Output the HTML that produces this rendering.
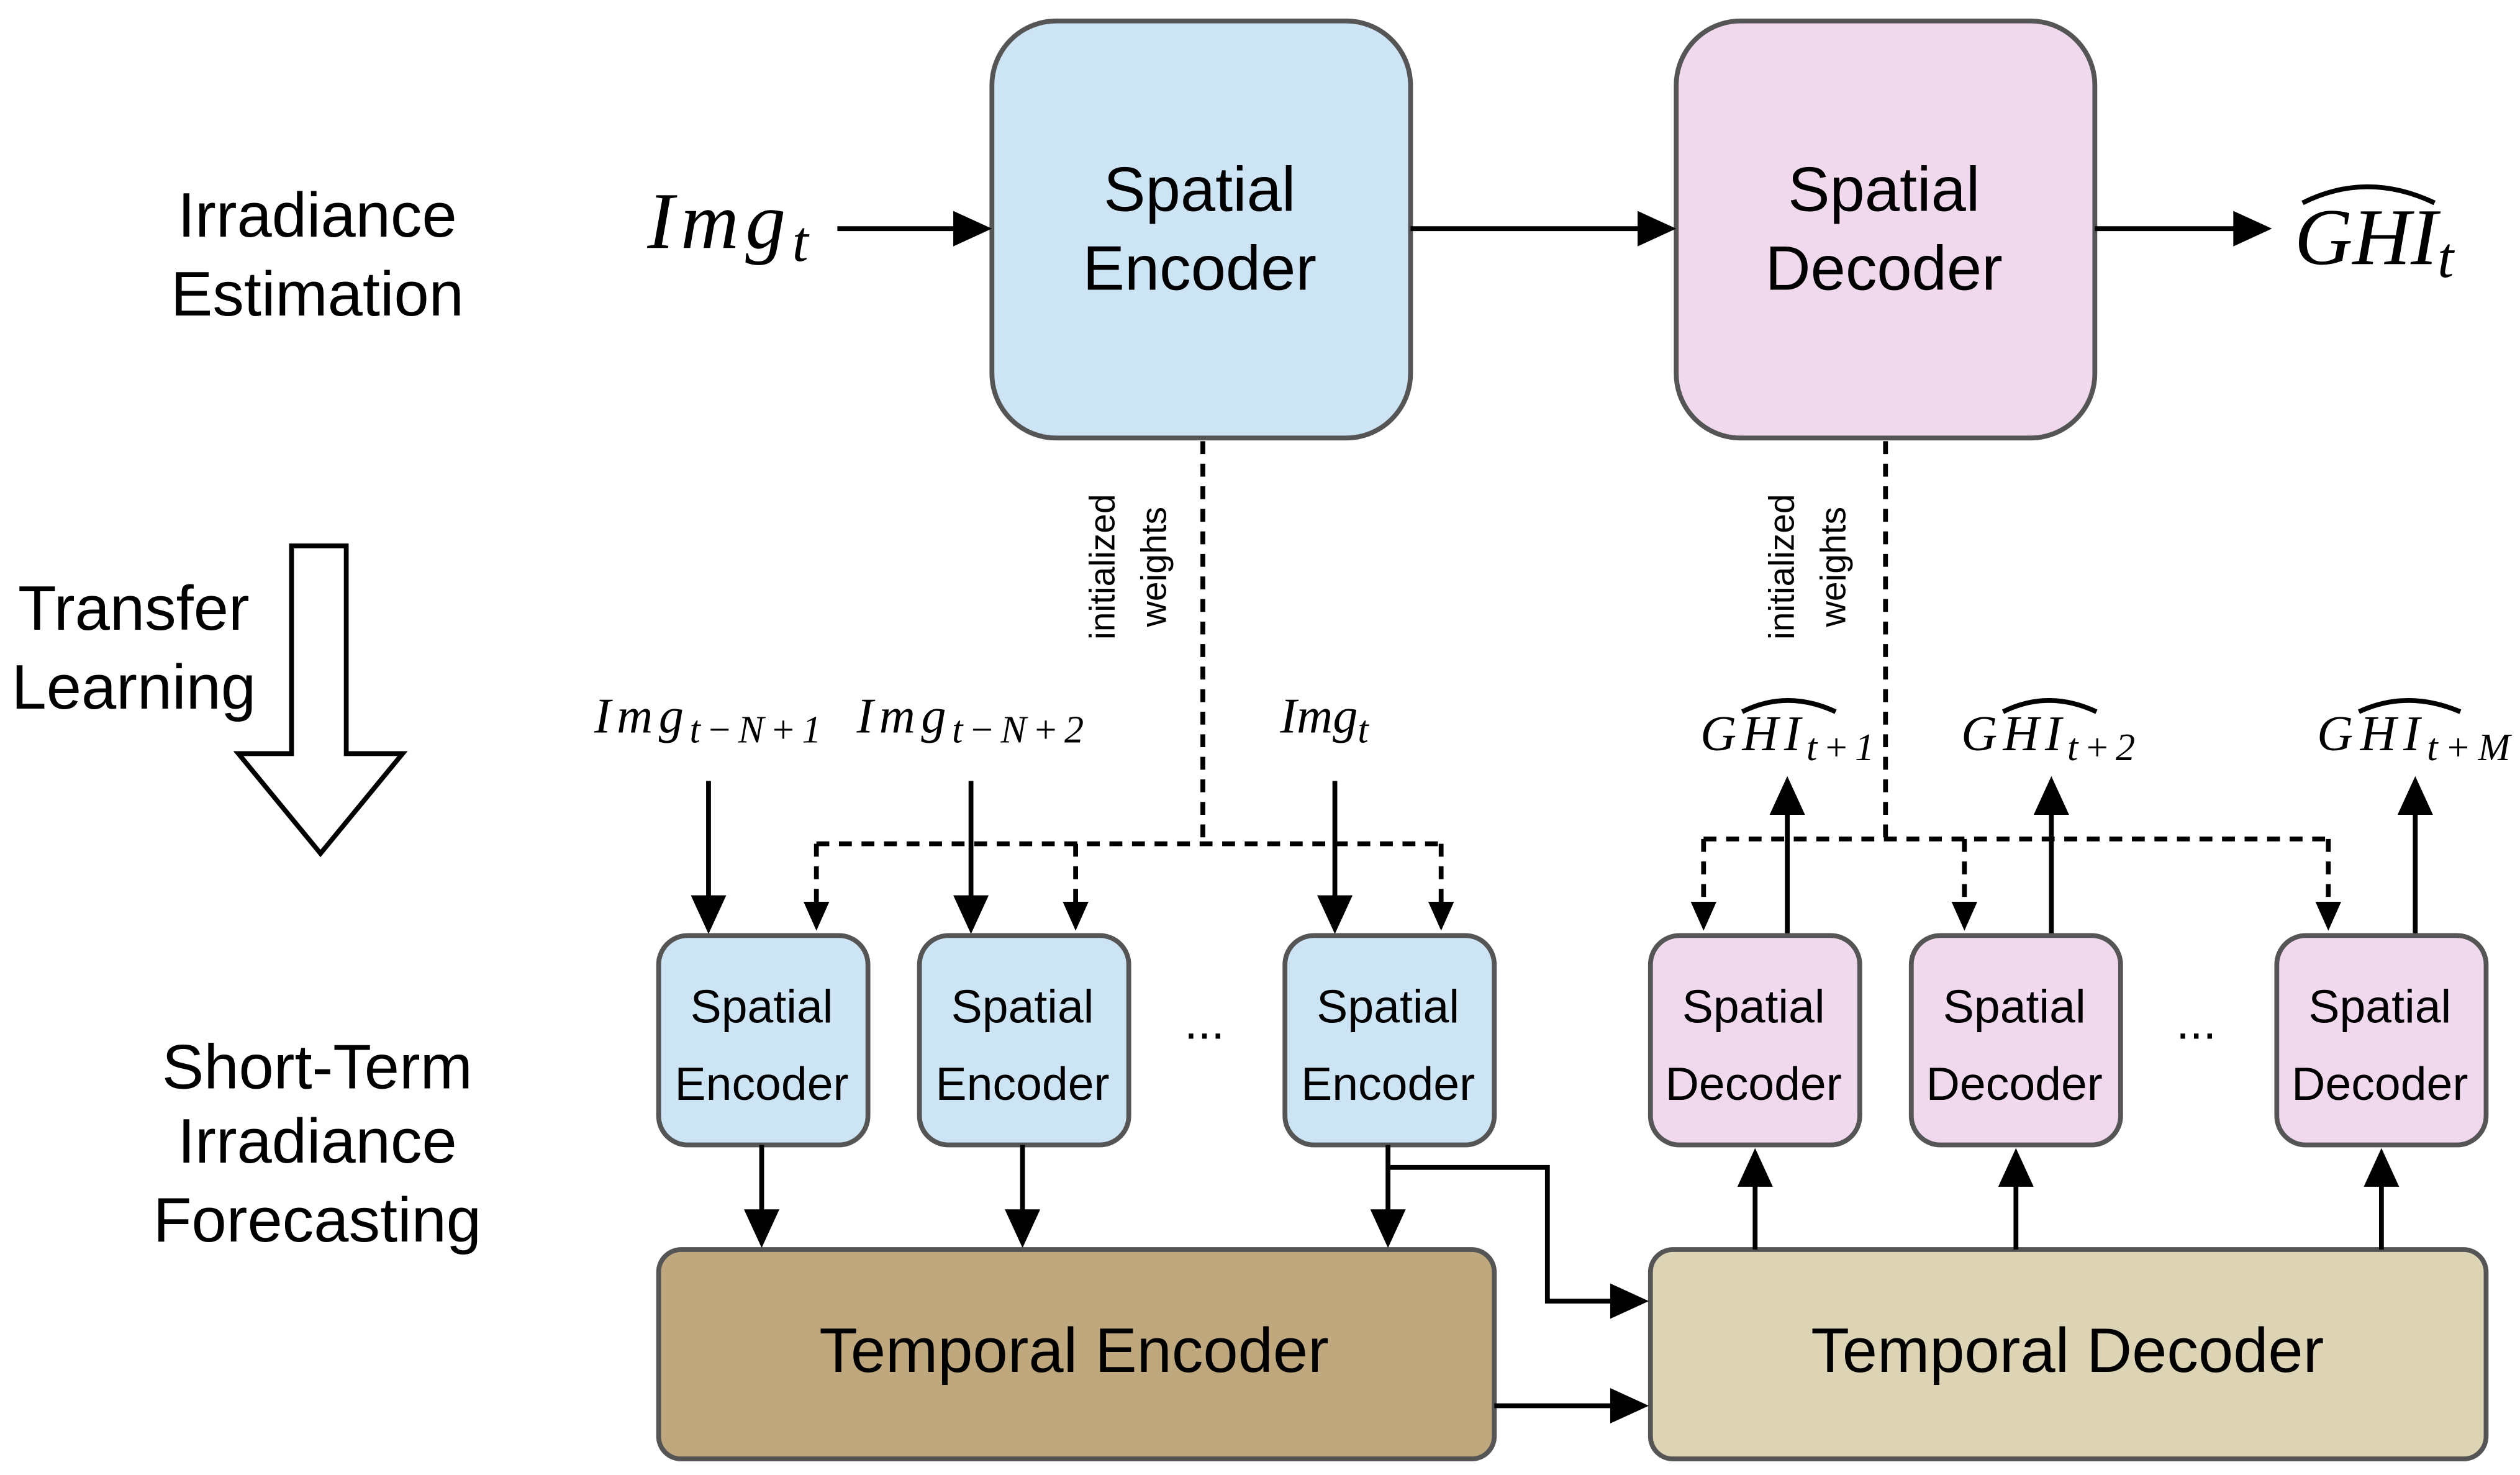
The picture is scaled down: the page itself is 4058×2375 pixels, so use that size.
<!DOCTYPE html>
<html><head><meta charset="utf-8"><style>html,body{margin:0;padding:0;background:#fff}svg{display:block}</style></head>
<body>
<svg width="4058" height="2375" viewBox="0 0 1565 916" xmlns="http://www.w3.org/2000/svg">
<style>
.t{font-family:"Liberation Sans",sans-serif;fill:#000;text-anchor:middle}
.m{font-family:"Liberation Serif",serif;font-style:italic;fill:#000}
.l{stroke:#000;stroke-width:3;fill:none}
.d{stroke:#000;stroke-width:3;fill:none;stroke-dasharray:8,6}
.h{fill:#000}
</style>
<!-- left labels -->
<text class="t" x="197" y="147" font-size="39">Irradiance</text>
<text class="t" x="197" y="196" font-size="39">Estimation</text>
<text class="t" x="83" y="391" font-size="39">Transfer</text>
<text class="t" x="83" y="440" font-size="39">Learning</text>
<text class="t" x="197" y="676" font-size="39">Short-Term</text>
<text class="t" x="197" y="722" font-size="39">Irradiance</text>
<text class="t" x="197" y="771" font-size="39">Forecasting</text>
<polygon points="181,339 215,339 215,468 250,468 199,530 148,468 181,468" fill="#fff" stroke="#000" stroke-width="3"/>

<!-- big boxes -->
<rect x="616" y="13" width="260" height="259" rx="40" fill="#cce4f4" stroke="#555" stroke-width="3"/>
<text class="t" x="745" y="131" font-size="39">Spatial</text>
<text class="t" x="745" y="180" font-size="39">Encoder</text>
<rect x="1041" y="13" width="260" height="259" rx="40" fill="#f0d9ed" stroke="#555" stroke-width="3"/>
<text class="t" x="1170" y="131" font-size="39">Spatial</text>
<text class="t" x="1170" y="180" font-size="39">Decoder</text>

<text class="m" x="402" y="154" font-size="50" textLength="100">Img<tspan font-size="36" dy="8">t</tspan></text>
<line class="l" x1="520" y1="142" x2="595" y2="142"/><polygon class="h" points="616,142 592,131 592,153"/>
<line class="l" x1="876" y1="142" x2="1020" y2="142"/><polygon class="h" points="1041,142 1017,131 1017,153"/>
<line class="l" x1="1301" y1="142" x2="1390" y2="142"/><polygon class="h" points="1411,142 1387,131 1387,153"/>
<text class="m" x="1425" y="164" font-size="50">GHI<tspan font-size="36" dy="8">t</tspan></text>
<path d="M1430,126 Q1470,106 1512,126" class="l" stroke-width="2.5"/>

<!-- dashed weights -->
<text class="t" font-size="22" transform="translate(692,352) rotate(-90)">initialized</text>
<text class="t" font-size="22" transform="translate(724,352) rotate(-90)">weights</text>
<text class="t" font-size="22" transform="translate(1114,352) rotate(-90)">initialized</text>
<text class="t" font-size="22" transform="translate(1146,352) rotate(-90)">weights</text>
<path class="d" d="M747,274 V524 M507,524 H895 M507,524 V562 M668,524 V562 M895,524 V562"/>
<polygon class="h" points="507,578 499,560 515,560"/><polygon class="h" points="668,578 660,560 676,560"/><polygon class="h" points="895,578 887,560 903,560"/>
<path class="d" d="M1171,274 V521 M1058,521 H1446 M1058,521 V562 M1220,521 V562 M1446,521 V562"/>
<polygon class="h" points="1058,578 1050,560 1066,560"/><polygon class="h" points="1220,578 1212,560 1228,560"/><polygon class="h" points="1446,578 1438,560 1454,560"/>

<!-- inputs -->
<text class="m" x="369" y="455" font-size="31" textLength="141">Img<tspan font-size="24" dy="6">t−N+1</tspan></text>
<text class="m" x="532" y="455" font-size="31" textLength="141">Img<tspan font-size="24" dy="6">t−N+2</tspan></text>
<text class="m" x="795" y="455" font-size="31">Img<tspan font-size="24" dy="6">t</tspan></text>
<line class="l" x1="440" y1="485" x2="440" y2="560"/><polygon class="h" points="440,580 429,556 451,556"/>
<line class="l" x1="603" y1="485" x2="603" y2="560"/><polygon class="h" points="603,580 592,556 614,556"/>
<line class="l" x1="829" y1="485" x2="829" y2="560"/><polygon class="h" points="829,580 818,556 840,556"/>

<!-- outputs -->
<text class="m" x="1056" y="466" font-size="31" textLength="108">GHI<tspan font-size="24" dy="6">t+1</tspan></text>
<text class="m" x="1218" y="466" font-size="31" textLength="108">GHI<tspan font-size="24" dy="6">t+2</tspan></text>
<text class="m" x="1439" y="466" font-size="31" textLength="120">GHI<tspan font-size="24" dy="6">t+M</tspan></text>
<path class="l" stroke-width="2" d="M1082,442 Q1110,428 1140,442 M1244,442 Q1272,428 1302,442 M1465,442 Q1495,428 1528,442"/>
<line class="l" x1="1110" y1="581" x2="1110" y2="505"/><polygon class="h" points="1110,482 1099,506 1121,506"/>
<line class="l" x1="1274" y1="581" x2="1274" y2="505"/><polygon class="h" points="1274,482 1263,506 1285,506"/>
<line class="l" x1="1500" y1="581" x2="1500" y2="505"/><polygon class="h" points="1500,482 1489,506 1511,506"/>

<!-- small boxes -->
<rect x="409" y="581" width="130" height="130" rx="18" fill="#cce4f4" stroke="#555" stroke-width="3"/>
<text class="t" x="473" y="635" font-size="29">Spatial</text><text class="t" x="473" y="683" font-size="29">Encoder</text>
<rect x="571" y="581" width="130" height="130" rx="18" fill="#cce4f4" stroke="#555" stroke-width="3"/>
<text class="t" x="635" y="635" font-size="29">Spatial</text><text class="t" x="635" y="683" font-size="29">Encoder</text>
<rect x="798" y="581" width="130" height="130" rx="18" fill="#cce4f4" stroke="#555" stroke-width="3"/>
<text class="t" x="862" y="635" font-size="29">Spatial</text><text class="t" x="862" y="683" font-size="29">Encoder</text>
<rect x="1025" y="581" width="130" height="130" rx="18" fill="#f0d9ed" stroke="#555" stroke-width="3"/>
<text class="t" x="1089" y="635" font-size="29">Spatial</text><text class="t" x="1089" y="683" font-size="29">Decoder</text>
<rect x="1187" y="581" width="130" height="130" rx="18" fill="#f0d9ed" stroke="#555" stroke-width="3"/>
<text class="t" x="1251" y="635" font-size="29">Spatial</text><text class="t" x="1251" y="683" font-size="29">Decoder</text>
<rect x="1414" y="581" width="130" height="130" rx="18" fill="#f0d9ed" stroke="#555" stroke-width="3"/>
<text class="t" x="1478" y="635" font-size="29">Spatial</text><text class="t" x="1478" y="683" font-size="29">Decoder</text>
<text class="t" x="748" y="645" font-size="30">...</text>
<text class="t" x="1364" y="645" font-size="30">...</text>

<!-- temporal -->
<rect x="409" y="776" width="519" height="130" rx="14" fill="#bfa77e" stroke="#555" stroke-width="3"/>
<text class="t" x="667" y="852" font-size="39">Temporal Encoder</text>
<rect x="1025" y="776" width="519" height="130" rx="14" fill="#ddd4b6" stroke="#555" stroke-width="3"/>
<text class="t" x="1284" y="852" font-size="39">Temporal Decoder</text>

<line class="l" x1="473" y1="711" x2="473" y2="755"/><polygon class="h" points="473,775 462,751 484,751"/>
<line class="l" x1="635" y1="711" x2="635" y2="755"/><polygon class="h" points="635,775 624,751 646,751"/>
<line class="l" x1="862" y1="711" x2="862" y2="755"/><polygon class="h" points="862,775 851,751 873,751"/>
<path class="l" d="M862,725 H961 V808 H1003"/><polygon class="h" points="1024,808 1000,797 1000,819"/>
<line class="l" x1="928" y1="873" x2="1003" y2="873"/><polygon class="h" points="1024,873 1000,862 1000,884"/>
<line class="l" x1="1090" y1="776" x2="1090" y2="735"/><polygon class="h" points="1090,713 1079,737 1101,737"/>
<line class="l" x1="1252" y1="776" x2="1252" y2="735"/><polygon class="h" points="1252,713 1241,737 1263,737"/>
<line class="l" x1="1479" y1="776" x2="1479" y2="735"/><polygon class="h" points="1479,713 1468,737 1490,737"/>
</svg>
</body></html>
